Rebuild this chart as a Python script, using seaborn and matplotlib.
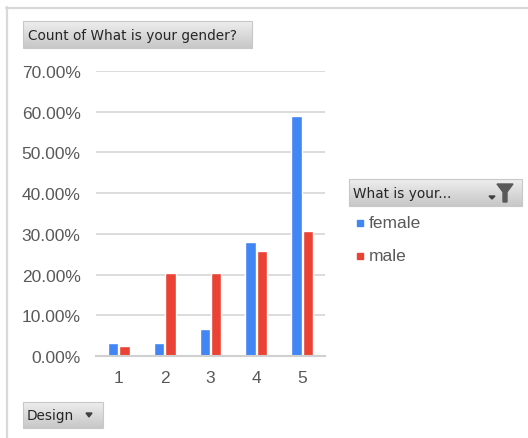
import numpy as np
import pandas as pd
import matplotlib
matplotlib.use('Agg')
import matplotlib.pyplot as plt
from matplotlib.patches import Polygon, Rectangle
from matplotlib.ticker import PercentFormatter
import seaborn as sns

# data (share of each gender per rating)
ratings = ['1', '2', '3', '4', '5']
female = [0.033, 0.033, 0.066, 0.279, 0.590]
male = [0.025, 0.204, 0.204, 0.257, 0.308]
genders = ['female', 'male']
colors = ['#4285F4', '#EA4335']

title_text = 'Count of What is your gender?'
legend_title = 'What is your...'
field_text = 'Design'

df = pd.DataFrame({
    'rating': ratings * 2,
    'gender': ['female'] * len(ratings) + ['male'] * len(ratings),
    'pct': female + male,
})

sns.set_style('white')
plt.rcParams['font.family'] = ['Liberation Sans', 'DejaVu Sans']

W, H = 528, 439
fig = plt.figure(figsize=(W / 100, H / 100), dpi=100)

# main plot area (pixel box 96..325 x 72..357)
ax = fig.add_axes([96 / W, 1 - 357 / H, (325 - 96) / W, (357 - 72) / H])
sns.barplot(data=df, x='rating', y='pct', hue='gender', order=ratings,
            hue_order=genders, palette=colors, width=0.5, gap=0.1,
            saturation=1, ax=ax, legend=False)
ax.set_ylim(0, 0.70)
ax.set_xlim(-0.5, 4.5)
ax.set_yticks(np.arange(0, 0.71, 0.10))
ax.yaxis.set_major_formatter(PercentFormatter(1.0, decimals=2))
ax.grid(axis='y', color='#d9d9d9', linewidth=1.3)
ax.set_axisbelow(True)
for s in ['top', 'right', 'left']:
    ax.spines[s].set_visible(False)
ax.spines['bottom'].set_color('#d0d0d0')
ax.spines['bottom'].set_linewidth(1.5)
ax.tick_params(axis='both', length=0, labelsize=12.5, labelcolor='#595959')
ax.tick_params(axis='y', pad=11)
ax.tick_params(axis='x', pad=10)
ax.set_xlabel('')
ax.set_ylabel('')

# overlay in pixel coords for the pivot-chart buttons, legend and frame
ov = fig.add_axes([0, 0, 1, 1], zorder=-1)
ov.set_axis_off()

grad = np.linspace(0.93, 0.78, 50).reshape(-1, 1)


def button(x0, y0, x1, y1):
    ov.imshow(grad, extent=(x0, x1, y1, y0), cmap='gray', vmin=0, vmax=1,
              aspect='auto', origin='upper', interpolation='bilinear')
    ov.add_patch(Rectangle((x0, y0), x1 - x0, y1 - y0, fill=False,
                           edgecolor='#c8c8c8', linewidth=0.8))


button(23, 22, 252, 49)
ov.text(28, 36, title_text, fontsize=9.8, color='#262626', va='center',
        ha='left', family='DejaVu Sans')

button(349, 180, 522, 207)
ov.text(353, 194, legend_title, fontsize=9.8, color='#262626', va='center',
        ha='left', family='DejaVu Sans')
ov.add_patch(Polygon([(497, 185), (513, 185), (507, 193), (507, 203),
                      (503, 203), (503, 193)], closed=True, color='#595959'))
ov.add_patch(Polygon([(489, 197), (495, 197), (492, 200)], closed=True,
                     color='#404040'))

for i, (g, c) in enumerate(zip(genders, colors)):
    yc = 224 + i * 33
    ov.add_patch(Rectangle((357, yc - 3), 6, 6, color=c))
    ov.text(369, yc, g, fontsize=12.5, color='#595959', va='center', ha='left')

button(23, 403, 103, 429)
ov.text(27, 416, field_text, fontsize=9.8, color='#262626', va='center',
        ha='left', family='DejaVu Sans')
ov.add_patch(Polygon([(86, 414), (92, 414), (89, 418)], closed=True,
                     color='#404040'))

# light frame (top and left edges)
ov.plot([6, W], [8.5, 8.5], color='#d9d9d9', linewidth=1.6)
ov.plot([6.5, 6.5], [8, H], color='#d9d9d9', linewidth=1.6)

ov.set_xlim(0, W)
ov.set_ylim(H, 0)

fig.savefig('out.png', dpi=100)
